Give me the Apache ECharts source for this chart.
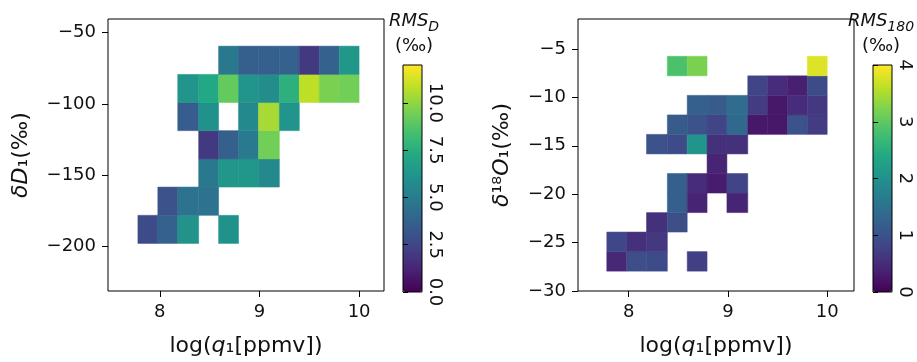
<!DOCTYPE html>
<html>
<head>
<meta charset="utf-8">
<script src="https://cdn.jsdelivr.net/npm/echarts@6/dist/echarts.min.js"></script>
<style>
  html, body { margin: 0; padding: 0; background: #fff; }
  #chart { width: 917px; height: 362px; }
</style>
</head>
<body>
<div id="chart"></div>
<script>
// bin edges
const qEdges = [7.78, 7.98, 8.18, 8.39, 8.59, 8.79, 8.99, 9.20, 9.40, 9.60, 9.80, 10.0]
const dEdges = [-197.7, -178.0, -158.2, -138.5, -118.7, -99.0, -79.3, -59.5]
const oEdges = [-27.95, -25.93, -23.91, -21.90, -19.88, -17.86, -15.84, -13.82, -11.81, -9.79, -7.77, -5.75]

// RMS of deltaD per cell, rows from bottom, null = empty
const rmsD = [
  [2.7, 3.7, 6.1, null, 6.0, null, null, null, null, null, null],
  [null, 3.0, 4.5, 4.5, null, null, null, null, null, null, null],
  [null, null, null, 4.8, 6.3, 6.3, 5.6, null, null, null, null],
  [null, null, null, 2.0, 3.6, 4.9, 9.4, null, null, null, null],
  [null, null, 3.5, 6.0, null, 5.6, 10.4, 6.2, null, null, null],
  [null, null, 6.2, 7.2, 9.1, 6.2, 5.8, 7.6, 10.8, 9.6, 9.4],
  [null, null, null, null, 4.8, 3.6, 3.6, 3.7, 2.0, 3.7, 6.3]
]

// RMS of delta18O per cell
const rms18O = [
  [0.45, 0.95, 0.9, null, 0.75, null, null, null, null, null, null],
  [0.85, 0.55, 0.65, null, null, null, null, null, null, null, null],
  [null, null, 0.55, 0.95, null, null, null, null, null, null, null],
  [null, null, null, 1.2, 0.4, null, 0.4, null, null, null, null],
  [null, null, null, 1.2, 0.5, 0.3, 0.8, null, null, null, null],
  [null, null, null, null, null, 0.4, null, null, null, null, null],
  [null, null, 1.0, 0.9, 2.05, 0.55, 0.55, null, null, null, null],
  [null, null, null, 1.15, 1.0, 0.8, 1.35, 0.25, 0.25, 1.0, 0.7],
  [null, null, null, null, 1.2, 1.15, 1.4, 0.7, 0.25, 0.5, 0.65],
  [null, null, null, null, null, null, null, 0.8, 0.5, 0.35, 0.9],
  [null, null, null, 2.85, 3.2, null, null, null, null, null, 3.8]
]

// tick labels
const qTicks = [8, 9, 10]
const dTicks = [-200, -150, -100, -50]
const oTicks = [-30, -25, -20, -15, -10, -5]
const cbDTicks = [0, 2.5, 5, 7.5, 10]
const cbOTicks = [0, 1, 2, 3, 4]

const VIRIDIS = ['#440154', '#482475', '#414487', '#355f8d', '#2a788e', '#21918c',
  '#22a884', '#44bf70', '#7ad151', '#bddf26', '#fde725']

const FONT = 'DejaVu Sans'
const TXT = '#111'

// 把网格转成矩形单元
function toCells(grid, xe, ye) {
  const out = []
  grid.forEach((row, r) => {
    row.forEach((v, c) => {
      if (v !== null) out.push([xe[c], ye[r], xe[c + 1], ye[r + 1], v])
    })
  })
  return out
}

function renderCell(params, api) {
  const p0 = api.coord([api.value(0), api.value(1)])
  const p1 = api.coord([api.value(2), api.value(3)])
  const color = api.visual('color')
  return {
    type: 'rect',
    shape: { x: p0[0], y: p1[1], width: p1[0] - p0[0], height: p0[1] - p1[1] },
    style: { fill: color, stroke: color, lineWidth: 0.5 }
  }
}

const nameRich = {
  n: { fontFamily: FONT, fontSize: 22, color: TXT },
  i: { fontFamily: FONT, fontSize: 22, color: TXT, fontStyle: 'italic' }
}

function mainX(gridIndex, min, max) {
  return {
    type: 'value', gridIndex, min, max,
    name: '{n|log(}{i|q}{n|₁[ppmv])}',
    nameLocation: 'middle', nameGap: 44,
    nameTextStyle: { rich: nameRich },
    axisLine: { show: false },
    splitLine: { show: false },
    axisTick: { show: true, length: 6, customValues: qTicks, lineStyle: { color: '#000' } },
    axisLabel: { customValues: qTicks, color: TXT, fontFamily: FONT, fontSize: 18, margin: 12 }
  }
}

function mainY(gridIndex, min, max, ticks, name, gap) {
  return {
    type: 'value', gridIndex, min, max,
    name, nameLocation: 'middle', nameGap: gap, nameRotate: 90,
    nameTextStyle: { rich: nameRich },
    axisLine: { show: false },
    splitLine: { show: false },
    axisTick: { show: true, length: 6, customValues: ticks, lineStyle: { color: '#000' } },
    axisLabel: { customValues: ticks, color: TXT, fontFamily: FONT, fontSize: 18, margin: 12,
      formatter: v => String(v).replace('-', '−') }
  }
}

function barY(gridIndex, max, ticks, fmt) {
  return {
    type: 'value', gridIndex, min: 0, max, position: 'right', z: 10,
    axisLine: { show: false },
    splitLine: { show: false },
    axisTick: { show: true, length: 5, customValues: ticks, lineStyle: { color: '#000' } },
    axisLabel: { customValues: ticks, rotate: -90, color: TXT, fontFamily: FONT, fontSize: 18,
      margin: 4, formatter: fmt }
  }
}

// 色标标题 RMS_x / (‰)
function cbTitle(cx, sub) {
  return [
    {
      type: 'text', x: cx, y: 12, z: 20,
      style: {
        text: '{i|RMS}{s|' + sub + '}', fill: TXT, align: 'center',
        rich: {
          i: { fontFamily: FONT, fontSize: 18, fontStyle: 'italic', lineHeight: 22, verticalAlign: 'top' },
          s: { fontFamily: FONT, fontSize: 14, fontStyle: 'italic', lineHeight: 14, verticalAlign: 'bottom' }
        }
      }
    },
    {
      type: 'text', x: cx, y: 37, z: 20,
      style: { text: '(‰)', fill: TXT, fontFamily: FONT, fontSize: 18, align: 'center' }
    }
  ]
}

const chart = echarts.init(document.getElementById('chart'), null, { renderer: 'canvas' })

const frame = { show: true, borderColor: '#000', borderWidth: 1, backgroundColor: 'transparent' }

chart.setOption({
  animation: false,
  backgroundColor: '#fff',
  grid: [
    Object.assign({ left: 108, top: 19, width: 276, height: 274 }, frame),
    Object.assign({ left: 578, top: 19, width: 276, height: 274 }, frame),
    Object.assign({ left: 403, top: 65, width: 19, height: 227, z: 10 }, frame),
    Object.assign({ left: 873, top: 65, width: 19, height: 227, z: 10 }, frame)
  ],
  xAxis: [
    mainX(0, 7.48, 10.25),
    mainX(1, 7.49, 10.27),
    { type: 'value', gridIndex: 2, show: false, min: 0, max: 1 },
    { type: 'value', gridIndex: 3, show: false, min: 0, max: 1 }
  ],
  yAxis: [
    mainY(0, -231, -40.5, dTicks, '{i|δD}{n|₁(‰)}', 76),
    mainY(1, -30, -1.9, oTicks, '{i|δ}{n|¹⁸}{i|O}{n|₁(‰)}', 65),
    barY(2, 12, cbDTicks, v => v.toFixed(1)),
    barY(3, 4, cbOTicks, v => String(v))
  ],
  visualMap: [
    {
      type: 'continuous', seriesIndex: 0, dimension: 4, min: 0, max: 12,
      inRange: { color: VIRIDIS }, calculable: false, hoverLink: false,
      left: 403, top: 65, itemWidth: 19, itemHeight: 227, padding: 0
    },
    {
      type: 'continuous', seriesIndex: 1, dimension: 4, min: 0, max: 4,
      inRange: { color: VIRIDIS }, calculable: false, hoverLink: false,
      left: 873, top: 65, itemWidth: 19, itemHeight: 227, padding: 0
    }
  ],
  graphic: cbTitle(414, 'D').concat(cbTitle(881, '180')),
  series: [
    {
      type: 'custom', xAxisIndex: 0, yAxisIndex: 0,
      renderItem: renderCell, encode: { x: [0, 2], y: [1, 3] },
      data: toCells(rmsD, qEdges, dEdges)
    },
    {
      type: 'custom', xAxisIndex: 1, yAxisIndex: 1,
      renderItem: renderCell, encode: { x: [0, 2], y: [1, 3] },
      data: toCells(rms18O, qEdges, oEdges)
    }
  ]
})
</script>
</body>
</html>
